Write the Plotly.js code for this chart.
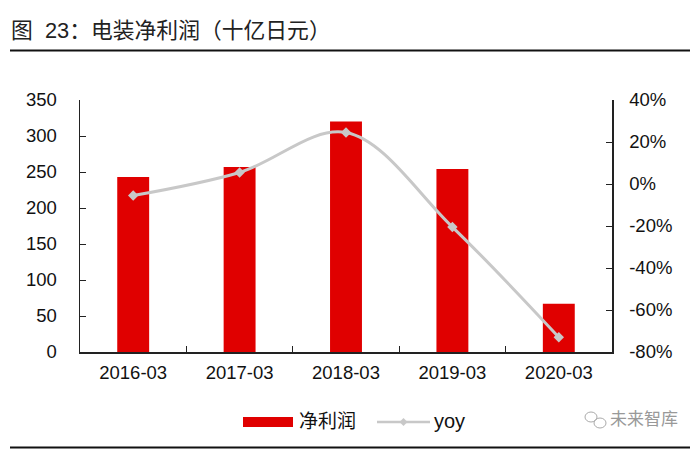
<!DOCTYPE html>
<html><head><meta charset="utf-8">
<script src="https://cdn.plot.ly/plotly-3.0.1.min.js"></script>
<style>html,body{margin:0;padding:0;background:#fff}</style></head>
<body><div id="c" style="width:700px;height:449px"></div>
<script>
const categories=['2016-03','2017-03','2018-03','2019-03','2020-03'];
const netProfit=[243,257,320,254,67];
const yoy=[-5.5,5.5,24.5,-20.5,-73];
const leftTicks=[0,50,100,150,200,250,300,350];
const rightTicks=[-80,-60,-40,-20,0,20,40];
const F='Liberation Sans, Arial, "Noto Sans CJK SC", sans-serif';
const axisCol='#222';
Plotly.newPlot('c',[
 {type:'bar',name:'净利润',x:categories,y:netProfit,marker:{color:'#e00000'},width:0.3,showlegend:false},
 {type:'scatter',mode:'lines+markers',name:'yoy',x:categories,y:yoy,yaxis:'y2',
  line:{color:'#c8c8c8',width:3,shape:'spline',smoothing:1},marker:{color:'#c8c8c8',size:8,symbol:'diamond'},showlegend:false}
],{
 width:700,height:449,margin:{l:80,r:88,t:99.5,b:96.5},
 paper_bgcolor:'#fff',plot_bgcolor:'#fff',showlegend:false,
 font:{family:F,size:17.5,color:'#000'},
 xaxis:{type:'category',showgrid:false,zeroline:false,showline:true,linecolor:axisCol,linewidth:1.5,ticks:'inside',ticklen:6,tickcolor:axisCol,tickson:'boundaries',tickfont:{size:18.5,color:'#111'},ticklabelstandoff:3,fixedrange:true},
 yaxis:{range:[0,350],tickvals:leftTicks,showgrid:false,zeroline:false,showline:true,linecolor:axisCol,linewidth:1.5,ticks:'inside',ticklen:6,tickcolor:axisCol,tickfont:{size:18.5,color:'#111'},ticklabelstandoff:18},
 yaxis2:{overlaying:'y',side:'right',range:[-80,40],tickvals:rightTicks,ticktext:rightTicks.map(v=>v+'%'),showgrid:false,zeroline:false,showline:true,linecolor:axisCol,linewidth:1.5,ticks:'inside',ticklen:6,tickcolor:axisCol,tickfont:{size:18.5,color:'#111'},ticklabelstandoff:12},
 annotations:[
  {xref:'paper',yref:'paper',x:(9-80)/532,y:(352.5-30)/253,xanchor:'left',yanchor:'middle',showarrow:false,text:'图  23：电装净利润（十亿日元）',font:{size:21.8,color:'#222',family:F}},
  {xref:'paper',yref:'paper',x:(297-80)/532,y:(352.5-422)/253,xanchor:'left',yanchor:'middle',showarrow:false,text:'净利润',font:{size:19,color:'#111',family:F}},
  {xref:'paper',yref:'paper',x:(432-80)/532,y:(352.5-422)/253,xanchor:'left',yanchor:'middle',showarrow:false,text:'yoy',font:{size:20,color:'#111',family:F}},
  {xref:'paper',yref:'paper',x:(608-80)/532,y:(352.5-420)/253,xanchor:'left',yanchor:'middle',showarrow:false,text:'未来智库',font:{size:17,color:'#999',family:F}}
 ]
},{displayModeBar:false,staticPlot:true}).then(()=>{
 const top=document.querySelectorAll('#c svg.main-svg');
 const s=top[top.length-1];
 const ns='http://www.w3.org/2000/svg';
 const add=(n,a)=>{const e=document.createElementNS(ns,n);for(const k in a)e.setAttribute(k,a[k]);s.appendChild(e);};
 add('line',{x1:10,x2:690,y1:50.5,y2:50.5,stroke:'#111','stroke-width':2});
 add('line',{x1:10,x2:690,y1:447.5,y2:447.5,stroke:'#111','stroke-width':2});
 add('rect',{x:243,y:417,width:50,height:10,fill:'#e00000'});
 add('line',{x1:377,x2:430,y1:422,y2:422,stroke:'#c8c8c8','stroke-width':2.5});
 add('path',{d:'M403.5 418l4 4l-4 4l-4-4z',fill:'#c8c8c8'});
 const g=document.createElementNS(ns,'g');
 g.setAttribute('fill','none');g.setAttribute('stroke','#aaa');g.setAttribute('stroke-width','1');
 g.innerHTML='<ellipse cx="591" cy="417" rx="6" ry="5"/><ellipse cx="600" cy="423" rx="6" ry="5"/>';
 s.appendChild(g);
});
</script></body></html>
